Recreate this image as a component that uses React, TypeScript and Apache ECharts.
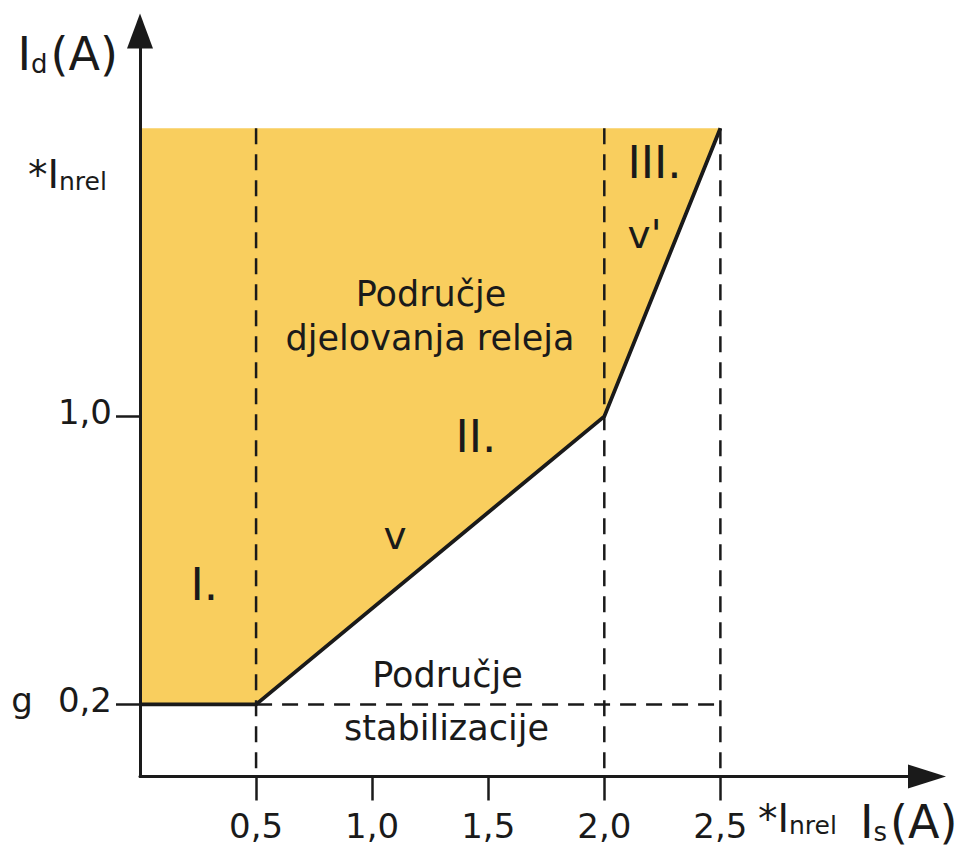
import React, { useEffect, useRef } from 'react';
import * as echarts from 'echarts';

// ---- data (relay characteristic, values in multiples of In_rel) ----
const curveIs = [0, 0.5, 2.0, 2.5];
const curveId = [0.2, 0.2, 1.0, 1.8];
const topId = 1.8;
const guideVerticalIs = [0.5, 2.0, 2.5];
const stabId = 0.2;
const stabFromIs = 0.5;
const stabToIs = 2.5;
const xTicks = [0.5, 1.0, 1.5, 2.0, 2.5];
const xTickLabels = ['0,5', '1,0', '1,5', '2,0', '2,5'];
const yTicks = [0.2, 1.0];
const yTickLabels = ['g 0,2', '1,0'];

const FONT = 'DejaVu Sans';
const INK = '#1a1a1a';
const FILL = '#F9CE5E';

const idx = (arr: number[], v: number) => arr.findIndex((a) => Math.abs(a - v) < 1e-9);

function txt(text: string, x: number, y: number, size: number, align: string = 'center', extra: any = {}) {
  return {
    type: 'text',
    x,
    y,
    z: 20,
    silent: true,
    style: {
      text,
      fontSize: size,
      fontFamily: FONT,
      fill: INK,
      align,
      textAlign: align,
      verticalAlign: 'middle',
      textVerticalAlign: 'middle',
      ...extra,
    },
  };
}

function subText(main: string, sub: string, tail: string, x: number, y: number, mainSize: number, mainLH: number, subSize: number, subLH: number) {
  return {
    type: 'text',
    x,
    y,
    z: 20,
    silent: true,
    style: {
      text: `{a|${main}}{s|${sub}}` + (tail ? `{a|${tail}}` : ''),
      fontFamily: FONT,
      fill: INK,
      align: 'left',
      textAlign: 'left',
      verticalAlign: 'bottom',
      textVerticalAlign: 'bottom',
      rich: {
        a: { fontSize: mainSize, lineHeight: mainLH, fontFamily: FONT, fill: INK, verticalAlign: 'bottom' },
        s: { fontSize: subSize, lineHeight: subLH, fontFamily: FONT, fill: INK, verticalAlign: 'bottom', padding: [0, 3, 0, 0] },
      },
    },
  };
}

export default function App() {
  const ref = useRef<HTMLDivElement>(null);

  useEffect(() => {
    if (!ref.current) return;
    const chart = echarts.init(ref.current, null, { renderer: 'svg' });

    const fillPolygon: number[][] = [[0, topId], ...curveIs.map((x, i) => [x, curveId[i]])];
    const curveData = curveIs.map((x, i) => [x, curveId[i]]);

    const guideSeries: any[] = guideVerticalIs.map((x) => ({
      type: 'line',
      name: 'guide-' + x,
      data: [
        [x, topId],
        [x, 0],
      ],
      symbol: 'none',
      silent: true,
      z: 3,
      lineStyle: { color: INK, width: 2.5, type: [16, 10] },
    }));
    guideSeries.push({
      type: 'line',
      name: 'guide-stab',
      data: [
        [stabFromIs, stabId],
        [stabToIs, stabId],
      ],
      symbol: 'none',
      silent: true,
      z: 3,
      lineStyle: { color: INK, width: 2.5, type: [16, 10] },
    });

    const option: any = {
      animation: false,
      backgroundColor: '#ffffff',
      grid: { left: 140, top: 31, width: 787, height: 745.5, containLabel: false },
      xAxis: {
        type: 'value',
        min: 0,
        max: 3.39,
        z: 10,
        axisLine: {
          show: true,
          onZero: false,
          symbol: ['none', 'triangle'],
          symbolSize: [24, 38],
          lineStyle: { color: INK, width: 3 },
        },
        axisTick: {
          show: true,
          customValues: xTicks,
          length: 24,
          inside: false,
          lineStyle: { color: INK, width: 2.5 },
        },
        axisLabel: {
          show: true,
          customValues: xTicks,
          formatter: (v: number) => {
            const i = idx(xTicks, v);
            return i >= 0 ? xTickLabels[i] : '';
          },
          margin: 32,
          fontSize: 34,
          fontFamily: FONT,
          color: INK,
        },
        splitLine: { show: false },
      },
      yAxis: {
        type: 'value',
        min: 0,
        max: 2.07,
        z: 10,
        axisLine: {
          show: true,
          onZero: false,
          symbol: ['none', 'triangle'],
          symbolSize: [26, 35],
          lineStyle: { color: INK, width: 3 },
        },
        axisTick: {
          show: true,
          customValues: yTicks,
          length: 24,
          inside: false,
          lineStyle: { color: INK, width: 2.5 },
        },
        axisLabel: {
          show: true,
          customValues: yTicks,
          formatter: (v: number) => {
            const i = idx(yTicks, v);
            if (i < 0) return '';
            const lab = yTickLabels[i];
            const sp = lab.indexOf(' ');
            if (sp > 0) return `{g|${lab.slice(0, sp)}}${lab.slice(sp + 1)}`;
            return lab;
          },
          margin: 28,
          padding: [0, 0, 8, 0],
          fontSize: 34,
          fontFamily: FONT,
          color: INK,
          rich: {
            g: { fontSize: 34, fontFamily: FONT, color: INK, padding: [0, 25, 0, 0] },
          },
        },
        splitLine: { show: false },
      },
      series: [
        {
          type: 'custom',
          name: 'fill',
          coordinateSystem: 'cartesian2d',
          silent: true,
          z: 1,
          data: fillPolygon,
          renderItem: (params: any, api: any) => {
            if (params.dataIndex !== 0) return null;
            const pts = fillPolygon.map((p) => api.coord(p));
            return { type: 'polygon', shape: { points: pts }, style: { fill: FILL } };
          },
        },
        ...guideSeries,
        {
          type: 'line',
          name: 'characteristic',
          data: curveData,
          symbol: 'none',
          silent: true,
          z: 5,
          lineStyle: { color: INK, width: 3.8, join: 'miter' },
        },
      ],
      graphic: {
        elements: [
          subText('I', 'd', '(A)', 17.5, 77, 46, 46, 26, 32),
          subText('I', 's', '(A)', 860, 845, 46, 46, 26, 32),
          subText('*I', 'nrel', '', 28, 194, 39, 39, 25, 29),
          subText('*I', 'nrel', '', 758, 838, 39, 39, 25, 29),
          txt('Područje', 431, 293.5, 35),
          txt('djelovanja releja', 430, 337.5, 35),
          txt('Područje', 447.5, 674.5, 35),
          txt('stabilizacije', 446.5, 728, 35),
          txt('I.', 190.5, 584.5, 45, 'left'),
          txt('II.', 455.5, 436, 45, 'left'),
          txt('III.', 627.5, 162.5, 45, 'left'),
          txt('v', 395, 535, 39),
          txt("v'", 644.5, 234.5, 39),
        ],
      },
    };

    chart.setOption(option);
    return () => {
      chart.dispose();
    };
  }, []);

  return (
    <div
      ref={ref}
      style={{ position: 'fixed', left: 0, top: 0, width: 966, height: 849, background: '#fff' }}
    />
  );
}
